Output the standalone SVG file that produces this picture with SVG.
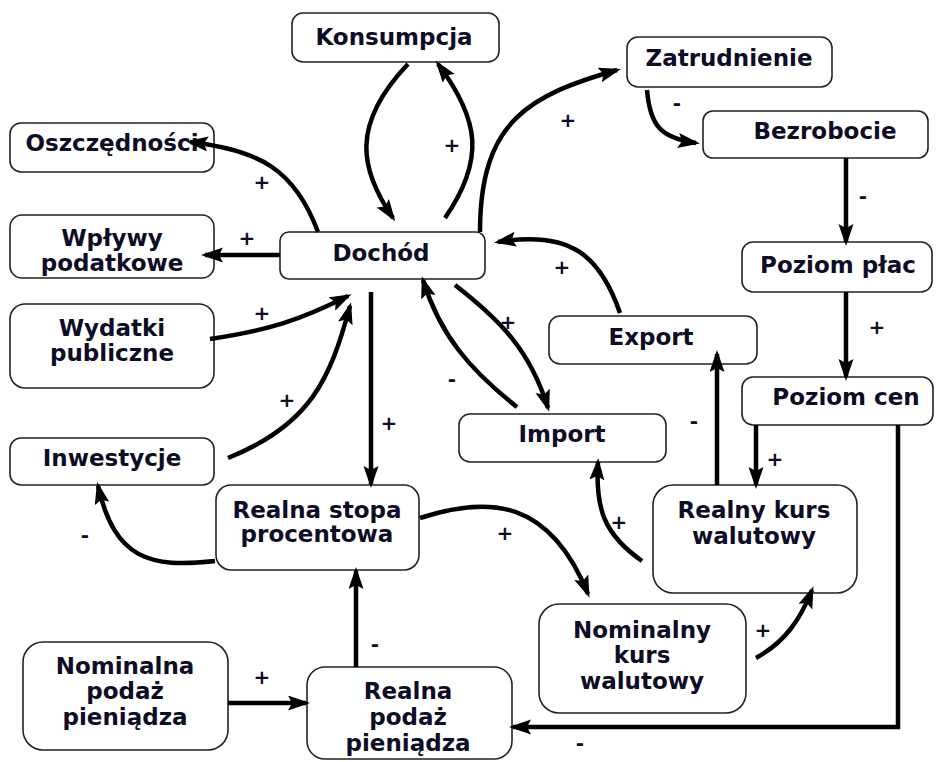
<svg xmlns="http://www.w3.org/2000/svg" width="941" height="762" viewBox="0 0 941 762">
<style>
.box{fill:#fff;stroke:#222;stroke-width:1.6}
.t{font-family:"DejaVu Sans",Verdana,sans-serif;font-weight:bold;font-size:23px;fill:#0d0d26;text-anchor:middle}
.s{font-family:"DejaVu Sans",Verdana,sans-serif;font-weight:bold;font-size:20px;fill:#0d0d26;text-anchor:middle}
.c{fill:none;stroke:#000;stroke-width:4.5}
.a{marker-end:url(#ah)}
</style>
<defs>
<marker id="ah" markerUnits="userSpaceOnUse" markerWidth="24" markerHeight="16" refX="18" refY="7.5" orient="auto">
<path d="M0,0 L22,7.5 L0,15 L4,7.5 z" fill="#000"/>
</marker>
</defs>
<rect width="941" height="762" fill="#fff"/>
<g id="konsumpcja"><rect class="box" x="292" y="13" width="207" height="49" rx="11"/><text class="t" x="394" y="45">Konsumpcja</text></g>
<g id="zatrudnienie"><rect class="box" x="627" y="37" width="205" height="50" rx="11"/><text class="t" x="729" y="66">Zatrudnienie</text></g>
<g id="bezrobocie"><rect class="box" x="703" y="111" width="225" height="47" rx="10"/><text class="t" x="825" y="139">Bezrobocie</text></g>
<g id="oszczednosci"><rect class="box" x="10" y="123" width="204" height="49" rx="11"/><text class="t" x="112" y="151">Oszczędności</text></g>
<g id="wplywy"><rect class="box" x="10" y="215" width="204" height="63" rx="12"/><text class="t" x="112" y="246">Wpływy</text><text class="t" x="112" y="271">podatkowe</text></g>
<g id="dochod"><rect class="box" x="280" y="232" width="205" height="47" rx="9"/><text class="t" x="381" y="261">Dochód</text></g>
<g id="wydatki"><rect class="box" x="10" y="304" width="204" height="84" rx="15"/><text class="t" x="112" y="336">Wydatki</text><text class="t" x="112" y="361">publiczne</text></g>
<g id="inwestycje"><rect class="box" x="10" y="438" width="204" height="47" rx="11"/><text class="t" x="112" y="466">Inwestycje</text></g>
<g id="realna-stopa"><rect class="box" x="216" y="485" width="203" height="85" rx="15"/><text class="t" x="317" y="518">Realna stopa</text><text class="t" x="317" y="542">procentowa</text></g>
<g id="import"><rect class="box" x="459" y="414" width="207" height="48" rx="11"/><text class="t" x="562" y="442">Import</text></g>
<g id="export"><rect class="box" x="549" y="316" width="208" height="48" rx="11"/><text class="t" x="651" y="345">Export</text></g>
<g id="poziom-plac"><rect class="box" x="742" y="242" width="190" height="50" rx="11"/><text class="t" x="838" y="273">Poziom płac</text></g>
<g id="poziom-cen"><rect class="box" x="742" y="377" width="191" height="48" rx="11"/><text class="t" x="846" y="405">Poziom cen</text></g>
<g id="realny-kurs"><rect class="box" x="653" y="485" width="204" height="108" rx="20"/><text class="t" x="754" y="518">Realny kurs</text><text class="t" x="754" y="544">walutowy</text></g>
<g id="nominalny-kurs"><rect class="box" x="539" y="604" width="207" height="109" rx="20"/><text class="t" x="642" y="638">Nominalny</text><text class="t" x="642" y="663">kurs</text><text class="t" x="642" y="689">walutowy</text></g>
<g id="nominalna-podaz"><rect class="box" x="23" y="642" width="205" height="108" rx="20"/><text class="t" x="125" y="674">Nominalna</text><text class="t" x="125" y="699">podaż</text><text class="t" x="125" y="725">pieniądza</text></g>
<g id="realna-podaz"><rect class="box" x="307" y="667" width="205" height="92" rx="18"/><text class="t" x="408" y="699">Realna</text><text class="t" x="408" y="725">podaż</text><text class="t" x="408" y="751">pieniądza</text></g>
<g id="connectors">
<path class="c a" d="M408,64 C350,125 360,170 393,218"/>
<path class="c a" d="M445,218 C485,160 480,120 438,64"/>
<path class="c a" d="M480,232 C480,120 530,95 617,70"/>
<path class="c a" d="M647,90 C650,125 660,138 696,143"/>
<path class="c a" d="M846,158 L846,242"/>
<path class="c a" d="M846,292 L846,377"/>
<path class="c a" d="M756,425 L756,485"/>
<path class="c a" d="M898,425 L898,727 L513,727"/>
<path class="c a" d="M717,485 L717,354"/>
<path class="c a" d="M642,561 C605,535 595,510 598,462"/>
<path class="c a" d="M756,658 C785,642 800,620 812,590"/>
<path class="c a" d="M420,518 C490,495 550,500 588,594"/>
<path class="c a" d="M371,292 L371,484"/>
<path class="c a" d="M356,667 L356,571"/>
<path class="c a" d="M228,703 L306,703"/>
<path class="c a" d="M215,561 C150,568 115,560 98,486"/>
<path class="c a" d="M228,458 C310,425 330,380 350,306"/>
<path class="c a" d="M210,339 C270,330 300,320 348,296"/>
<path class="c a" d="M280,255 L205,255"/>
<path class="c a" d="M318,232 C295,170 260,150 190,142"/>
<path class="c a" d="M517,407 C470,370 440,335 423,280"/>
<path class="c a" d="M455,285 C500,320 530,350 548,408"/>
<path class="c a" d="M620,313 C600,255 570,230 498,242"/>
</g>
<g id="labels">
<text class="s" x="452" y="152">+</text>
<text class="s" x="568" y="127">+</text>
<text class="s" x="677" y="110">-</text>
<text class="s" x="863" y="203">-</text>
<text class="s" x="877" y="334">+</text>
<text class="s" x="775" y="466">+</text>
<text class="s" x="580" y="750">-</text>
<text class="s" x="694" y="428">-</text>
<text class="s" x="619" y="529">+</text>
<text class="s" x="763" y="637">+</text>
<text class="s" x="505" y="540">+</text>
<text class="s" x="389" y="430">+</text>
<text class="s" x="375" y="651">-</text>
<text class="s" x="262" y="684">+</text>
<text class="s" x="85" y="542">-</text>
<text class="s" x="287" y="407">+</text>
<text class="s" x="262" y="320">+</text>
<text class="s" x="247" y="245">+</text>
<text class="s" x="262" y="189">+</text>
<text class="s" x="452" y="386">-</text>
<text class="s" x="508" y="329">+</text>
<text class="s" x="562" y="274">+</text>
</g>
</svg>
